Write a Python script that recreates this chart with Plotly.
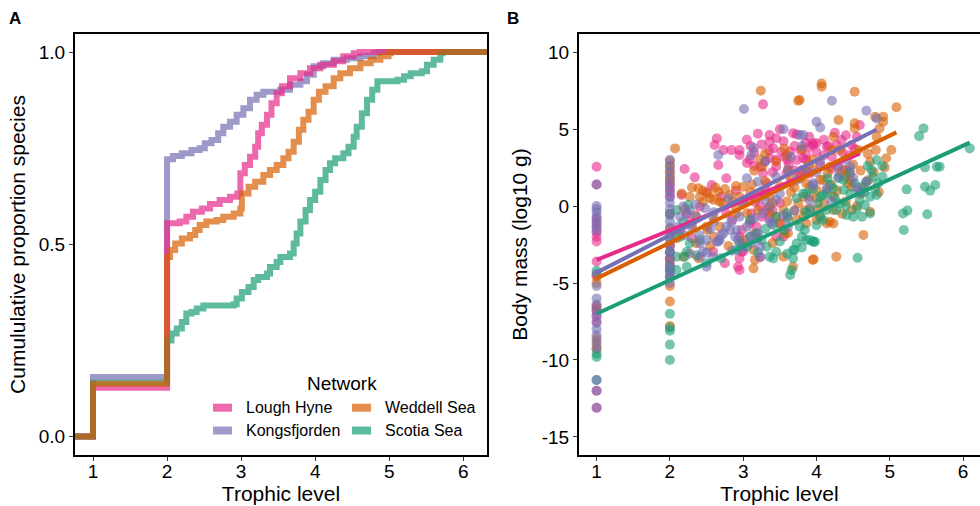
import plotly.graph_objects as go

# ---------------- data ----------------
networks = ["Lough Hyne", "Kongsfjorden", "Weddell Sea", "Scotia Sea"]
colors = {"Lough Hyne": "#E7298A", "Kongsfjorden": "#7570B3",
          "Weddell Sea": "#D95F02", "Scotia Sea": "#1B9E77"}

# Panel A: empirical cumulative distribution (step breakpoints: trophic level, cumulative proportion)
ecdf_tl = {
    "Lough Hyne": [0, 1, 2, 2.17, 2.26, 2.35, 2.47, 2.58, 2.71, 2.85, 2.95, 2.99, 3.05, 3.12, 3.19,
                   3.23, 3.28, 3.35, 3.41, 3.48, 3.55, 3.66, 3.8, 3.93, 4.07, 4.25, 4.38, 4.52, 4.6, 7],
    "Kongsfjorden": [0, 1, 2, 2.08, 2.2, 2.33, 2.44, 2.51, 2.6, 2.69, 2.76, 2.85, 2.94, 3.03, 3.12,
                     3.21, 3.3, 3.53, 3.66, 3.8, 3.89, 3.98, 4.11, 4.25, 4.43, 4.61, 4.79, 4.85, 7],
    "Weddell Sea": [0, 1, 2, 2.04, 2.11, 2.2, 2.31, 2.38, 2.44, 2.53, 2.67, 2.76, 2.9, 2.99, 3.01,
                    3.1, 3.19, 3.3, 3.39, 3.48, 3.57, 3.64, 3.71, 3.78, 3.84, 3.91, 3.98, 4.05, 4.14,
                    4.25, 4.34, 4.47, 4.61, 4.75, 4.88, 4.99, 5.02, 7],
    "Scotia Sea": [0, 1, 2, 2.06, 2.13, 2.2, 2.26, 2.33, 2.4, 2.49, 2.9, 2.94, 3.01, 3.1, 3.17, 3.23,
                   3.35, 3.39, 3.48, 3.53, 3.66, 3.71, 3.75, 3.8, 3.87, 3.93, 4.0, 4.07, 4.14, 4.2,
                   4.27, 4.38, 4.45, 4.52, 4.56, 4.63, 4.7, 4.77, 4.84, 5.11, 5.2, 5.29, 5.44, 5.51,
                   5.6, 5.69, 5.72, 7],
}
ecdf_prop = {
    "Lough Hyne": [0, 0.127, 0.555, 0.559, 0.572, 0.585, 0.593, 0.605, 0.615, 0.624, 0.632, 0.685,
                   0.706, 0.728, 0.754, 0.789, 0.811, 0.837, 0.867, 0.893, 0.911, 0.932, 0.945,
                   0.958, 0.967, 0.976, 0.989, 0.997, 1.0, 1.0],
    "Kongsfjorden": [0, 0.155, 0.721, 0.73, 0.737, 0.745, 0.75, 0.763, 0.771, 0.789, 0.806, 0.819,
                     0.837, 0.854, 0.876, 0.889, 0.897, 0.902, 0.915, 0.924, 0.941, 0.963, 0.971,
                     0.98, 0.984, 0.989, 0.997, 1.0, 1.0],
    "Weddell Sea": [0, 0.137, 0.467, 0.485, 0.502, 0.515, 0.524, 0.537, 0.55, 0.559, 0.563, 0.572,
                    0.58, 0.593, 0.632, 0.65, 0.663, 0.68, 0.693, 0.706, 0.724, 0.741, 0.767, 0.798,
                    0.824, 0.845, 0.876, 0.897, 0.911, 0.932, 0.945, 0.958, 0.971, 0.98, 0.989,
                    0.997, 1.0, 1.0],
    "Scotia Sea": [0, 0.14, 0.25, 0.268, 0.281, 0.298, 0.32, 0.324, 0.333, 0.341, 0.344, 0.359,
                   0.376, 0.389, 0.407, 0.415, 0.424, 0.441, 0.454, 0.467, 0.476, 0.502, 0.528,
                   0.559, 0.589, 0.615, 0.637, 0.667, 0.693, 0.711, 0.724, 0.737, 0.754, 0.78,
                   0.806, 0.841, 0.876, 0.902, 0.924, 0.928, 0.937, 0.945, 0.95, 0.967, 0.98,
                   0.997, 1.0, 1.0],
}

# Panel B: (trophic level, log10 body mass) per species
lough_hyne_points = [
    (1, 2.55), (1, 1.4), (1, -0.8), (1, -1.1), (1, -1.4), (1, -1.7), (1, -2.0), (1, -2.3), (1, -3.6),
    (1, -4.5), (1, -6.5), (1, -6.8), (1, -7.1), (1, -7.5), (1, -12.0), (1, -13.1),
    (2, 1.5), (2, 1.2), (2, 0.9), (2, 0.6), (2, -2.6), (2, -3.0), (2, -3.4), (2, -3.8), (2, -4.2), (2, -4.6),
    (3.27, 6.6), (2.64, 4.39), (2.61, 3.96), (2.73, 3.63), (2.66, 2.66), (2.2, 2.4), (2.34, 1.86),
    (2.77, 1.8), (2.57, 1.36), (2.16, 0.71), (2.84, 3.63), (2.95, 3.63), (2.95, 3.31), (3.09, 3.03),
    (3.36, 4.61), (3.36, 4.18), (3.5, 4.98), (3.68, 4.72), (3.73, 4.65), (3.41, 3.74), (3.52, 3.53),
    (3.57, 3.2), (3.64, 3.53), (3.36, 3.1), (3.23, 2.55), (3.27, 2.12), (3.45, 2.55), (3.32, 1.47),
    (3.59, 2.12), (3.73, 2.99), (3.86, 3.31), (3.95, 3.96), (4.0, 4.07), (4.14, 3.85), (3.8, 2.34),
    (3.91, 2.12), (3.23, 0.6), (3.16, 0.28), (3.23, -0.04), (3.11, -0.48), (3.09, -1.13), (2.98, -1.56),
    (2.95, -1.99), (2.98, -2.42), (2.98, -2.97), (2.95, -3.4), (2.93, -3.94), (2.95, -4.16),
    (3.45, -1.99), (3.18, -1.34), (3.25, -0.69), (3.36, -0.8), (3.55, -1.99), (2.59, -2.97),
    (2.23, -0.48), (2.27, -1.02), (2.41, -0.04), (2.14, -1.56), (2.77, -0.48), (2.27, -3.08),
    (4.25, 4.76), (4.34, 4.29), (3.96, 4.07), (3.91, 3.85), (4.16, 3.9), (4.27, 3.96), (4.48, 3.96),
    (4.59, 5.26), (3.86, 2.99), (3.82, 3.1), (4.41, 2.34), (4.21, 3.2), (3.77, 2.12), (3.91, -0.15),
    (4.46, 2.12), (2.75, -3.72), (3.23, -3.33), (3.2, -2.1), (3.0, -2.96), (3.11, -0.91), (3.32, -0.26),
    (3.5, -1.12), (3.05, 2.8), (3.15, 3.5), (3.45, 3.0), (3.62, 2.7), (3.3, 2.9), (3.55, 4.2), (3.7, 3.9),
    (3.85, 4.1), (4.05, 2.7), (4.1, 3.3), (4.3, 2.6), (4.45, 3.3), (4.55, 4.5), (4.52, 3.7), (3.2, 4.7),
    (3.1, 3.9), (3.4, 2.2), (3.65, 1.5), (2.9, 1.0), (3.0, 0.3), (2.5, 0.9), (2.3, -2.1),
    (3.05, 4.3), (3.15, 2.6), (3.25, 4.0), (3.35, 3.6), (3.45, 4.4), (3.6, 3.0), (3.7, 2.3), (3.78, 3.6),
    (3.9, 4.5), (4.0, 3.5), (4.1, 4.3), (4.2, 2.4), (4.35, 3.5), (3.3, 1.0), (3.5, 0.2), (3.4, -0.3),
    (2.85, -0.9), (2.7, 0.6), (3.6, -0.7), (4.4, 4.6),
]
kongsfjorden_points = [
    (1, 1.4), (1, 0.0), (1, -0.2), (1, -0.4), (1, -0.7), (1, -1.0), (1, -1.3), (1, -1.6), (1, -4.4),
    (1, -5.2), (1, -6.0), (1, -6.4), (1, -6.8), (1, -7.2), (1, -7.6), (1, -8.0), (1, -8.4), (1, -8.8),
    (1, -9.2), (1, -11.3), (1, -12.0), (1, -13.1),
    (2, 3.0), (2, 2.6), (2, 2.2), (2, 1.8), (2, 1.4), (2, 1.0), (2, 0.6), (2, 0.2), (2, -0.2), (2, -0.6),
    (2, -1.0), (2, -1.4), (2, -1.8), (2, -2.2), (2, -2.6), (2, -3.0), (2, -3.4), (2, -3.8), (2, -4.2),
    (2, -4.6), (2, -5.0),
    (3.01, 6.3), (3.55, 4.98), (3.82, 4.61), (4.0, 5.47), (4.05, 5.1), (3.8, 3.9), (3.14, 3.79),
    (3.11, 3.31), (2.66, 3.31), (3.05, 1.8), (3.2, 1.58), (3.45, 1.9), (3.61, 2.34), (3.73, 1.69),
    (3.95, 1.36), (4.14, 1.15), (2.18, -0.04), (2.27, -0.26), (2.48, -0.15), (2.91, -1.56), (2.84, -1.02),
    (2.77, -1.34), (2.73, -1.78), (2.68, -2.21), (2.64, -2.32), (2.5, -2.21), (2.41, -2.42), (2.5, -3.03),
    (2.5, -3.94), (2.59, -3.3), (2.89, -1.99), (3.36, -0.04), (3.27, -0.48), (3.39, -1.13), (3.05, -1.34),
    (3.2, -1.78), (3.23, -2.64), (3.11, -2.42), (2.11, -1.34), (2.14, -0.69), (2.41, -3.3), (3.61, -1.34),
    (2.45, -2.96), (2.66, -2.31), (2.7, -1.88), (2.82, -1.56), (2.93, -2.2), (3.23, -3.29), (3.36, -1.0),
    (2.23, -0.47), (2.36, -0.69), (4.21, 6.84), (4.68, 6.19), (4.82, 5.69), (3.77, 4.61), (4.68, 1.58),
    (4.46, 2.55), (3.96, 1.47), (3.86, 2.34), (4.05, 2.88), (4.3, 1.9), (4.55, 1.2), (4.6, 0.9), (4.4, 3.0),
    (3.5, 0.8), (3.3, 0.4), (3.0, 0.2), (2.8, 0.5), (2.6, -0.4), (3.7, -0.3), (4.2, 0.3), (2.35, 0.1),
    (2.2, -1.9), (3.15, -0.8), (2.55, -1.5),
    (2.95, -0.7), (3.1, -2.0), (3.0, -2.7), (2.85, -2.9), (2.6, -1.0), (2.3, -1.4), (3.45, 0.4),
    (3.55, -0.6), (3.9, 0.4), (4.0, 2.2), (4.3, 2.5), (4.5, 1.8), (3.65, 3.2), (3.3, 2.9), (2.4, -1.9),
]
weddell_sea_points = [
    (1, -4.6), (1, -5.0), (1, -6.6), (1, -8.6), (1, -9.0), (1, -9.3),
    (2, 2.9), (2, 2.6), (2, 2.3), (2, 2.0), (2, 1.7), (2, -0.5), (2, -1.5), (2, -2.5), (2, -3.5),
    (2, -5.2), (2, -6.2), (2, -7.8),
    (3.24, 7.49), (3.75, 6.84), (4.07, 7.96), (4.07, 7.75), (2.07, 3.74), (3.56, 3.74), (3.8, 3.68),
    (3.23, 3.03), (3.26, 2.55), (2.39, 1.15), (2.41, 0.6), (2.52, 0.82), (2.66, 0.93), (2.68, 0.28),
    (2.82, 0.71), (2.95, 0.6), (3.0, 1.25), (2.45, 0.28), (2.27, 0.6), (2.16, 0.82), (2.68, -1.34),
    (2.59, -0.69), (2.5, -1.34), (2.36, -2.42), (2.09, -2.1), (2.18, -3.3), (3.14, -2.86), (3.02, -2.2),
    (3.16, -3.5), (3.36, -0.04), (3.55, -0.26), (3.75, 0.17), (3.9, 0.6), (4.0, 1.04), (4.09, 1.69),
    (3.86, 1.47), (3.64, 1.9), (3.61, 2.34), (3.36, 0.6), (3.5, -1.13), (3.82, -0.69), (3.95, -3.5),
    (3.68, -3.94), (4.14, -1.13), (3.57, -1.78), (3.2, -0.26), (2.91, -0.48), (4.52, 7.42), (5.09, 6.41),
    (4.91, 5.8), (4.91, 5.47), (4.8, 5.8), (4.52, 5.37), (4.52, 5.04), (4.3, 5.58), (4.86, 5.04),
    (4.81, 3.64), (5.02, 3.64), (4.93, 2.51), (4.82, 4.5), (4.57, 3.64), (4.23, 4.5), (4.32, 3.64),
    (4.21, 3.64), (4.64, -1.88), (4.27, -3.29), (3.96, -3.46), (4.43, 1.47), (4.32, 2.12), (4.18, 2.55),
    (4.05, 1.69), (3.96, 2.34), (3.91, 1.25), (4.14, 1.04), (4.23, 0.6), (3.82, 0.6), (4.0, 0.5),
    (4.23, -0.26), (4.46, 1.69), (4.71, 1.69), (4.37, 2.34), (4.48, 1.25), (4.73, 2.88), (4.18, -1.02),
    (4.23, -1.13), (4.73, -0.37), (4.48, -0.26), (4.05, -0.69), (3.84, -0.26), (3.86, -1.13), (3.77, 6.88),
    (3.14, -4.05), (2.39, -3.4), (2.51, -1.56), (3.61, -1.77), (4.0, -0.91), (3.73, -0.91), (3.36, -0.47),
    (3.05, -0.47), (2.3, 1.2), (2.6, 0.4), (2.75, 1.1), (2.9, 1.3), (3.1, 0.9), (3.3, 1.6), (3.45, 2.9),
    (3.15, 2.3), (2.2, -0.2), (2.3, -1.2), (3.65, 0.9), (3.5, 1.3), (4.6, 2.3), (4.4, 0.3), (4.6, 0.8),
    (4.95, 3.1), (4.2, 1.4), (3.9, 2.7), (3.7, 1.2), (3.4, -2.4), (2.8, -2.6), (2.6, -2.0), (3.6, 3.3),
    (3.3, 3.4),
    (2.45, 1.0), (2.55, 0.5), (2.62, 1.2), (2.72, 0.2), (2.85, 0.3), (2.9, -0.1), (3.08, 0.4), (3.12, 1.4),
    (3.25, 0.9), (3.4, 0.2), (3.45, -0.7), (3.6, 0.3), (3.7, -0.3), (3.78, 1.8), (3.85, 2.2), (3.95, 3.0),
    (4.02, -0.2), (4.1, 0.2), (4.15, 2.1), (4.28, 1.0), (4.35, -0.5), (4.4, 1.9), (4.5, 2.7), (4.55, 0.0),
    (4.65, 1.2), (4.7, 3.4), (4.78, 2.2), (4.85, 0.9), (3.55, -3.3), (3.15, -1.8), (2.35, -0.6),
    (2.55, -2.6),
]
scotia_sea_points = [
    (1, -4.2), (1, -9.6), (1, -9.8), (1, -11.3),
    (2, -0.5), (2, -2.0), (2, -3.0), (2, -4.0), (2, -4.6), (2, -7.0), (2, -7.9), (2, -8.1), (2, -9.0),
    (2, -10.0),
    (2.25, 0.06), (2.09, -0.26), (2.18, -1.02), (2.14, -1.99), (2.09, -3.3), (2.23, -2.97), (2.2, -3.3),
    (2.36, -3.19), (2.09, -4.16), (2.23, -3.94), (2.5, -3.72), (2.91, -2.86), (2.95, -2.42), (3.09, -1.99),
    (3.25, -2.21), (3.32, -2.64), (3.45, -2.97), (3.36, -3.3), (3.68, -2.86), (3.68, -3.4), (3.73, -2.42),
    (3.66, -4.16), (3.64, -4.48), (3.8, -1.99), (3.91, -2.21), (3.98, -2.32), (4.0, -1.24), (3.73, 0.5),
    (3.82, 0.82), (3.91, -0.26), (4.02, 0.17), (4.09, 0.71), (4.14, -0.26), (4.05, -0.69), (3.77, -1.34),
    (3.84, -1.56), (3.61, -0.8), (3.41, -1.24), (5.46, 5.04), (5.4, 4.54), (6.09, 3.74), (5.48, 2.51),
    (5.64, 2.55), (5.68, 2.55), (5.23, 1.08), (5.48, 1.25), (5.55, 0.99), (5.62, 1.36), (5.18, -0.48),
    (5.24, -0.3), (5.51, -0.54), (5.19, -1.56), (4.56, -3.36), (4.82, 2.99), (4.75, 2.34), (4.77, 1.9),
    (4.84, 1.47), (4.68, 1.58), (4.62, 1.25), (4.52, 1.47), (4.59, 0.93), (4.46, 0.82), (4.37, 1.69),
    (4.37, 1.04), (4.23, 1.14), (4.18, 1.36), (4.14, 0.82), (4.05, 0.6), (4.73, 0.6), (4.82, 0.71),
    (4.66, 0.06), (4.73, -0.48), (4.62, -0.69), (4.5, -0.69), (4.41, -0.59), (4.32, 0.17), (4.27, -0.26),
    (4.09, -0.91), (3.96, -2.32), (3.86, -2.21), (4.59, 0.39), (3.05, -2.64), (3.41, -3.4), (3.7, -2.85),
    (3.95, -2.31), (3.18, -1.77), (3.09, -0.91), (3.45, -0.69), (3.59, -0.47), (3.86, 0.82), (2.41, -2.2),
    (2.27, -2.42), (2.0, -4.15), (3.55, -1.6), (4.3, 1.8), (4.7, 2.6), (4.9, 2.6), (3.3, -1.5),
    (3.5, -2.3), (3.6, -3.1), (3.8, -2.7), (3.85, -0.4), (3.95, 1.1), (4.15, 1.8), (4.25, 0.5), (4.4, 0.0),
    (4.55, -0.2), (4.65, 0.9), (4.8, 1.1), (4.9, 1.9), (3.2, -3.0), (2.7, -3.4), (4.45, 2.2),
]
points = {"Lough Hyne": lough_hyne_points, "Kongsfjorden": kongsfjorden_points,
          "Weddell Sea": weddell_sea_points, "Scotia Sea": scotia_sea_points}

# linear fits: body mass = intercept + slope * TL
fit_intercept = {"Lough Hyne": -5.42, "Kongsfjorden": -6.76, "Weddell Sea": -7.02, "Scotia Sea": -9.18}
fit_slope = {"Lough Hyne": 1.92, "Kongsfjorden": 2.433, "Weddell Sea": 2.318, "Scotia Sea": 2.183}

x_ticks = [1, 2, 3, 4, 5, 6]
a_y_ticks = [0, 0.5, 1.0]
a_y_labels = ["0.0", "0.5", "1.0"]
b_y_ticks = [10, 5, 0, -5, -10, -15]
b_y_labels = ["10", "5", "0", "-5", "-10", "-15"]

# ---------------- figure ----------------
W, H = 980, 506
FONT = "Liberation Sans, Arial, Helvetica, sans-serif"
fig = go.Figure()


def px(x):
    return x / W


def py(y):
    return 1 - y / H


# Panel A lines
for net in ["Kongsfjorden", "Lough Hyne", "Scotia Sea", "Weddell Sea"]:
    fig.add_trace(go.Scatter(
        x=ecdf_tl[net], y=ecdf_prop[net], mode="lines", line_shape="hv",
        line=dict(color=colors[net], width=6), opacity=0.7,
        xaxis="x", yaxis="y", showlegend=False, name=net))

# Panel B points
for net in ["Lough Hyne", "Weddell Sea", "Scotia Sea", "Kongsfjorden"]:
    pts = points[net]
    fig.add_trace(go.Scatter(
        x=[p[0] for p in pts], y=[p[1] for p in pts], mode="markers",
        marker=dict(color=colors[net], size=10, opacity=0.6, line=dict(width=0)),
        xaxis="x2", yaxis="y2", showlegend=False, name=net))

# Panel B regression lines
for net in ["Lough Hyne", "Weddell Sea", "Scotia Sea", "Kongsfjorden"]:
    tls = [p[0] for p in points[net]]
    xs = [min(tls), max(tls)]
    ys = [fit_intercept[net] + fit_slope[net] * v for v in xs]
    fig.add_trace(go.Scatter(
        x=xs, y=ys, mode="lines", line=dict(color=colors[net], width=4),
        xaxis="x2", yaxis="y2", showlegend=False, name=net))

ydom = [py(455), py(34)]
axis_common = dict(showgrid=False, zeroline=False, showline=True, linecolor="black", linewidth=2,
                   ticks="outside", ticklen=4, tickwidth=1, tickcolor="#333333",
                   tickfont=dict(family=FONT, size=19, color="black"))
xaxis_extra = dict(ticklabelstandoff=-6)
title_font = dict(family=FONT, size=21, color="black")

fig.update_layout(
    width=W, height=H, margin=dict(l=0, r=0, t=0, b=0),
    paper_bgcolor="white", plot_bgcolor="white", showlegend=False,
    xaxis=dict(domain=[px(75), px(487)], range=[0.757, 6.32], anchor="y", mirror=True,
               tickvals=x_ticks, title=dict(text="Trophic level", font=title_font, standoff=2),
               **axis_common, **xaxis_extra),
    yaxis=dict(domain=ydom, range=[-0.048, 1.047], anchor="x", mirror=True,
               tickvals=a_y_ticks, ticktext=a_y_labels,
               title=dict(text="Cumululative proportion species", font=title_font, standoff=7),
               **axis_common),
    xaxis2=dict(domain=[px(579), 1.0], range=[0.76, 6.23], anchor="y2", mirror=True,
                tickvals=x_ticks, title=dict(text="Trophic level", font=title_font, standoff=2),
                **axis_common, **xaxis_extra),
    yaxis2=dict(domain=ydom, range=[-16.17, 11.17], anchor="x2", mirror=False,
                tickvals=b_y_ticks, ticktext=b_y_labels,
                title=dict(text="Body mass (log10 g)", font=title_font, standoff=8),
                **axis_common),
)

# panel tags
for tag, x in [("A", 15), ("B", 513)]:
    fig.add_annotation(text=f"<b>{tag}</b>", x=px(x), y=py(18), xref="paper", yref="paper",
                       xanchor="center", yanchor="middle", showarrow=False,
                       font=dict(family=FONT, size=17, color="black"))

# legend (drawn manually)
fig.add_annotation(text="Network", x=px(341.7), y=py(383), xref="paper", yref="paper",
                   xanchor="center", yanchor="middle", showarrow=False,
                   font=dict(family=FONT, size=19, color="black"))
legend_layout = [("Lough Hyne", 213, 407.7), ("Kongsfjorden", 213, 430.5),
                 ("Weddell Sea", 352, 407.7), ("Scotia Sea", 352, 430.5)]
for net, lx, ly in legend_layout:
    fig.add_shape(type="rect", xref="paper", yref="paper",
                  x0=px(lx), x1=px(lx + 19), y0=py(ly + 4), y1=py(ly - 4),
                  fillcolor=colors[net], opacity=0.7, line=dict(width=0))
    fig.add_annotation(text=net, x=px(lx + 31), y=py(ly), xref="paper", yref="paper",
                       xanchor="left", yanchor="middle", showarrow=False,
                       font=dict(family=FONT, size=16, color="black"))

fig.write_html("out.html", config={"displayModeBar": False},
               post_script="document.body.style.margin='0px';")
